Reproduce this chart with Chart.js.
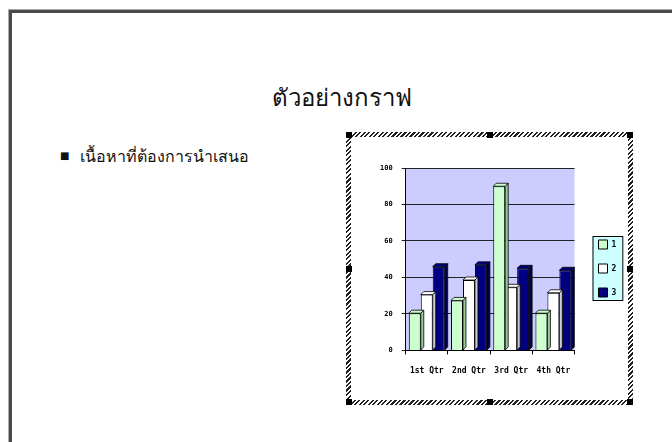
<!DOCTYPE html>
<html>
<head>
<meta charset="utf-8">
<script src="https://cdn.jsdelivr.net/npm/chart.js@4"></script>
<style>
  body { margin: 0; width: 672px; height: 442px; overflow: hidden; background: #fff; position: relative; font-family: "Noto Sans", "DejaVu Sans", sans-serif; }
  .slide { position: absolute; left: 9px; top: 10px; width: 700px; height: 480px; border-top: 3px solid #4a4a4a; border-left: 3px solid #4a4a4a; box-shadow: -1px -1px 0 #aaa; }
  .title { position: absolute; left: 0; width: 684px; top: 78px; text-align: center; font-size: 24px; color: #111; }
  .bullet { position: absolute; left: 60px; top: 144px; font-size: 16px; color: #111; }
  .bullet span { display: inline-block; width: 20px; font-size: 10px; vertical-align: 3px; }
  .frame { position: absolute; left: 346px; top: 132px; width: 287px; height: 273px;
    background: repeating-linear-gradient(135deg, #222 0 1.6px, #fff 1.6px 3.2px); }
  .inner { position: absolute; left: 5px; top: 5px; right: 5px; bottom: 5px; background: #fff; }
  .h { position: absolute; width: 6px; height: 6px; background: #000; }
  canvas { position: absolute; left: 4px; top: 4px; }
</style>
</head>
<body>
<div class="slide"></div>
<div class="title">ตัวอย่างกราฟ</div>
<div class="bullet"><span>■</span>เนื้อหาที่ต้องการนำเสนอ</div>
<div class="frame">
  <div class="inner"></div>
  <div class="h" style="left:0;top:0"></div>
  <div class="h" style="left:141px;top:0"></div>
  <div class="h" style="right:0;top:0"></div>
  <div class="h" style="left:0;top:134px"></div>
  <div class="h" style="right:0;top:134px"></div>
  <div class="h" style="left:0;bottom:0"></div>
  <div class="h" style="left:141px;bottom:0"></div>
  <div class="h" style="right:0;bottom:0"></div>
  <canvas id="myChart" width="280" height="266"></canvas>
</div>
<script>
const labels = ["1st Qtr", "2nd Qtr", "3rd Qtr", "4th Qtr"];
const series1 = [20.4, 27.4, 90, 20.4];
const series2 = [30.6, 38.6, 34.6, 31.6];
const series3 = [45.9, 46.9, 45, 43.9];
const yTicks = [0, 20, 40, 60, 80, 100];

//plot wall + legend box behind everything
const backdrop = {
  id: "backdrop",
  beforeDraw(chart) {
    const { ctx, chartArea: a } = chart;
    ctx.save();
    ctx.fillStyle = "#ccccff";
    ctx.fillRect(a.left, a.top, a.right - a.left, a.bottom - a.top);
    const boxes = chart.legend.legendHitBoxes;
    if (boxes && boxes.length) {
      let l = Infinity, t = Infinity, r = -Infinity, b = -Infinity;
      boxes.forEach((h) => {
        l = Math.min(l, h.left); t = Math.min(t, h.top);
        r = Math.max(r, h.left + h.width); b = Math.max(b, h.top + h.height);
      });
      ctx.fillStyle = "#ccffff";
      ctx.strokeStyle = "#000";
      ctx.lineWidth = 1;
      ctx.fillRect(l - 6, t - 4, r - l + 12, b - t + 7);
      ctx.strokeRect(l - 6 + 0.5, t - 4 + 0.5, r - l + 12, b - t + 7);
    }
    ctx.restore();
  },
};

//small 3D depth on each bar
const depth = {
  id: "depth",
  afterDatasetDraw(chart, args) {
    const ctx = chart.ctx;
    const d = 3;
    const ds = chart.data.datasets[args.index];
    ctx.save();
    ctx.strokeStyle = "#000";
    ctx.lineWidth = 0.8;
    args.meta.data.forEach((bar) => {
      const w = bar.width / 2;
      ctx.fillStyle = ds.sideColor;
      ctx.beginPath();
      ctx.moveTo(bar.x + w, bar.y);
      ctx.lineTo(bar.x + w + d, bar.y - d);
      ctx.lineTo(bar.x + w + d, bar.base - d);
      ctx.lineTo(bar.x + w, bar.base);
      ctx.closePath();
      ctx.fill();
      ctx.stroke();
      ctx.fillStyle = ds.backgroundColor;
      ctx.beginPath();
      ctx.moveTo(bar.x - w, bar.y);
      ctx.lineTo(bar.x - w + d, bar.y - d);
      ctx.lineTo(bar.x + w + d, bar.y - d);
      ctx.lineTo(bar.x + w, bar.y);
      ctx.closePath();
      ctx.fill();
      ctx.stroke();
    });
    ctx.restore();
  },
};

const data = {
  labels: labels,
  datasets: [
    { label: "1", data: series1, backgroundColor: "#ccffcc", sideColor: "#99cc99", borderColor: "#000", borderWidth: 1 },
    { label: "2", data: series2, backgroundColor: "#ffffff", sideColor: "#cccccc", borderColor: "#000", borderWidth: 1 },
    { label: "3", data: series3, backgroundColor: "#000080", sideColor: "#000050", borderColor: "#000", borderWidth: 1 },
  ],
};

const config = {
  type: "bar",
  data: data,
  options: {
    responsive: false,
    animation: false,
    layout: { padding: { top: 32, left: 21, right: 4, bottom: 14 } },
    categoryPercentage: 0.85,
    barPercentage: 1.0,
    plugins: {
      tooltip: { enabled: false },
      legend: {
        position: "right",
        align: "start",
        //blank title only pushes the items down
        title: { display: true, text: " ", font: { size: 10 }, padding: { top: 0, bottom: 45 } },
        labels: {
          boxWidth: 9,
          boxHeight: 9,
          padding: 15,
          color: "#000",
          font: { family: "DejaVu Sans Mono", size: 8, weight: "bold" },
        },
      },
    },
    scales: {
      x: {
        grid: { display: true, drawOnChartArea: false, color: "#000", tickLength: 4 },
        border: { color: "#000" },
        ticks: {
          color: "#000", padding: 12, maxRotation: 0, minRotation: 0, autoSkip: false,
          font: { family: "DejaVu Sans Mono", size: 8, weight: "bold" },
        },
      },
      y: {
        min: 0,
        max: 100,
        afterBuildTicks: (axis) => { axis.ticks = yTicks.map((v) => ({ value: v })); },
        grid: { color: "#222", tickLength: 4 },
        border: { color: "#000" },
        ticks: { color: "#000", padding: 9, font: { family: "DejaVu Sans Mono", size: 7, weight: "bold" } },
      },
      //empty spacer between plot and legend
      gap: {
        type: "linear",
        position: "right",
        display: true,
        grid: { display: false },
        border: { display: false },
        ticks: { display: false },
        afterFit: (s) => { s.width = 9; },
      },
    },
  },
  plugins: [backdrop, depth],
};

const myChart = new Chart(document.getElementById("myChart"), config);
</script>
</body>
</html>
